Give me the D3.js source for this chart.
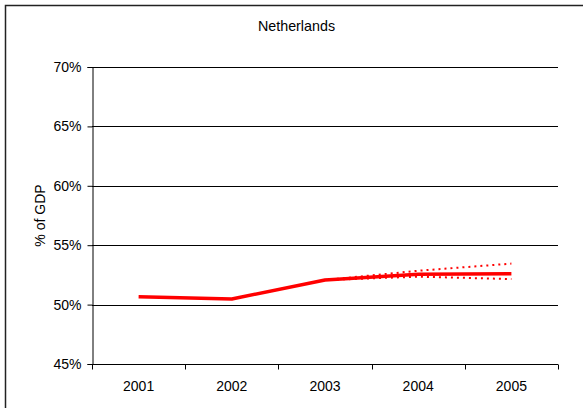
<!DOCTYPE html>
<html><head><meta charset="utf-8">
<script src="https://cdn.jsdelivr.net/npm/d3@7"></script>
<style>body{margin:0;background:#fff}svg{display:block;font-family:"Liberation Sans",Arial,sans-serif}</style>
</head><body><svg id="c" width="583" height="408"></svg>
<script>
const title = "Netherlands";
const yLabel = "% of GDP";
const years = ["2001","2002","2003","2004","2005"];
const mainValues = [50.67, 50.47, 52.07, 52.55, 52.6];
const upperYears = ["2003","2004","2005"];
const upperValues = [52.07, 52.85, 53.45];
const lowerYears = ["2003","2004","2005"];
const lowerValues = [52.07, 52.35, 52.15];
const yTicks = [45, 50, 55, 60, 65, 70];

(function(){
const svg = d3.select("#c");
svg.append("rect").attr("x",5.5).attr("y",5.5).attr("width",600).attr("height",420)
  .attr("fill","#fff").attr("stroke","#222").attr("stroke-width",1.5);

const pl=92, pr=558, pt=67, pb=364;
const x = d3.scaleBand().domain(years).range([pl,pr]);
const y = d3.scaleLinear().domain([45,70]).range([pb,pt]);
const fs = 14;

svg.append("text").attr("x",296.5).attr("y",31).attr("text-anchor","middle")
  .attr("font-size",14.3).text(title);

// gridlines
svg.append("g").selectAll("line").data(yTicks.filter(d=>d>45)).join("line")
  .attr("x1",pl).attr("x2",pr).attr("y1",d=>Math.round(y(d))+0.5).attr("y2",d=>Math.round(y(d))+0.5)
  .attr("stroke","#000").attr("stroke-width",1);

// y axis
const yAxis = d3.axisLeft(y).tickValues(yTicks).tickFormat(d=>d+"%").tickSize(5).tickPadding(6);
const gy = svg.append("g").attr("transform",`translate(${pl+0.5},0)`).call(yAxis);
gy.select(".domain").attr("stroke","#000");
gy.selectAll(".tick line").attr("stroke","#000");
gy.selectAll("text").attr("font-size",fs).attr("fill","#000").attr("font-family","Liberation Sans, Arial, sans-serif");

// x axis
const xAxis = d3.axisBottom(x).tickSize(0).tickPadding(17);
const gx = svg.append("g").attr("transform",`translate(0,${pb+0.5})`).call(xAxis);
gx.select(".domain").attr("stroke","#000").attr("d",`M${pl},0H${pr}`);
gx.selectAll("text").attr("font-size",fs).attr("fill","#000").attr("font-family","Liberation Sans, Arial, sans-serif");
const bounds = years.map(d=>x(d)).concat([pr]);
gx.append("g").selectAll("line").data(bounds).join("line")
  .attr("x1",d=>Math.round(d)+0.5).attr("x2",d=>Math.round(d)+0.5).attr("y1",0).attr("y2",5).attr("stroke","#000");

svg.append("text").attr("transform",`translate(45,${(pt+pb)/2}) rotate(-90)`)
  .attr("text-anchor","middle").attr("font-size",fs).text(yLabel);

const cx = d => x(d)+x.bandwidth()/2;
const line = d3.line().x(d=>cx(d[0])).y(d=>y(d[1]));
const pair = (ys, vs) => ys.map((d,i)=>[d,vs[i]]);
svg.append("path").attr("d",line(pair(upperYears,upperValues))).attr("fill","none")
  .attr("stroke","#f00").attr("stroke-width",2).attr("stroke-dasharray","2,4");
svg.append("path").attr("d",line(pair(lowerYears,lowerValues))).attr("fill","none")
  .attr("stroke","#f00").attr("stroke-width",2).attr("stroke-dasharray","2,4");
svg.append("path").attr("d",line(pair(years,mainValues))).attr("fill","none")
  .attr("stroke","#f00").attr("stroke-width",3.5).attr("stroke-linejoin","round");
})();
</script></body></html>
